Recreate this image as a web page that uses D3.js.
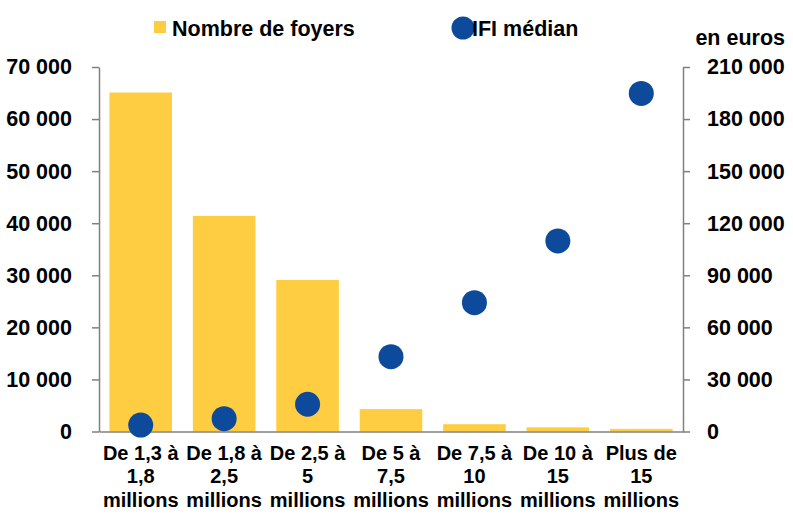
<!DOCTYPE html>
<html>
<head>
<meta charset="utf-8">
<script src="https://cdn.jsdelivr.net/npm/d3@7"></script>
<style>
  body { margin: 0; background: #fff; }
  svg text { font-family: "Liberation Sans", Arial, sans-serif; font-weight: bold; fill: #000; }
</style>
</head>
<body>
<svg id="chart" width="793" height="517"></svg>
<script>
// ---- Data ----
const categories = [
  ["De 1,3 à", "1,8", "millions"],
  ["De 1,8 à", "2,5", "millions"],
  ["De 2,5 à", "5", "millions"],
  ["De 5 à", "7,5", "millions"],
  ["De 7,5 à", "10", "millions"],
  ["De 10 à", "15", "millions"],
  ["Plus de", "15", "millions"]
];
const nombreFoyers = [65100, 41400, 29100, 4300, 1400, 800, 500];
const ifiMedian = [3700, 7400, 15700, 43100, 74200, 109800, 194800];
const leftTicks = [0, 10000, 20000, 30000, 40000, 50000, 60000, 70000];
const rightTicks = [0, 30000, 60000, 90000, 120000, 150000, 180000, 210000];
const seriesNames = ["Nombre de foyers", "IFI médian"];
const unitLabel = "en euros";

// ---- Setup ----
const svg = d3.select("#chart");
const mLeft = 99, mRight = 683, mTop = 67, mBottom = 431.5;
const barColor = "#FFCD41", dotColor = "#0E4A9C", axisColor = "#808080";
const fontSize = 21.5, xFontSize = 20;

const keys = categories.map(c => c.join(" "));
const x = d3.scaleBand().domain(keys).range([mLeft, mRight]).paddingInner(0.25).paddingOuter(0.125);
const yL = d3.scaleLinear().domain([0, 70000]).range([mBottom, mTop]);
const yR = d3.scaleLinear().domain([0, 210000]).range([mBottom, mTop]);

const loc = d3.formatLocale({decimal: ",", thousands: " ", grouping: [3], currency: ["", "€"]});
const fmt = loc.format(",");

// Bars
svg.append("g").selectAll("rect").data(nombreFoyers).join("rect")
  .attr("x", (d, i) => x(keys[i]))
  .attr("width", x.bandwidth())
  .attr("y", d => yL(d))
  .attr("height", d => mBottom - yL(d))
  .attr("fill", barColor);

// Left axis
const gL = svg.append("g").attr("transform", `translate(${mLeft},0)`)
  .call(d3.axisLeft(yL).tickValues(leftTicks).tickFormat(fmt).tickSize(7).tickPadding(20).tickSizeOuter(0));
// Right axis
const gR = svg.append("g").attr("transform", `translate(${mRight},0)`)
  .call(d3.axisRight(yR).tickValues(rightTicks).tickFormat(fmt).tickSize(7).tickPadding(17).tickSizeOuter(0));
[gL, gR].forEach(g => {
  g.attr("font-family", null).attr("font-size", null);
  g.selectAll("path, line").attr("stroke", axisColor).attr("stroke-width", 1.5);
  g.selectAll("text").attr("font-size", fontSize).style("font-weight", "bold");
});

// Bottom axis
const gX = svg.append("g").attr("transform", `translate(0,${mBottom})`)
  .call(d3.axisBottom(x).tickSize(0).tickSizeOuter(0).tickFormat(""));
gX.select("path").attr("stroke", axisColor).attr("stroke-width", 1.5);
gX.attr("font-family", null);
gX.selectAll(".tick").each(function(d, i) {
  const t = d3.select(this).append("text")
    .attr("text-anchor", "middle")
    .attr("font-size", xFontSize)
    .attr("y", 28);
  categories[i].forEach((line, j) => {
    t.append("tspan").attr("x", 0).attr("dy", j === 0 ? 0 : 23.5).text(line);
  });
});

// Dots
svg.append("g").selectAll("circle").data(ifiMedian).join("circle")
  .attr("cx", (d, i) => x(keys[i]) + x.bandwidth() / 2)
  .attr("cy", d => yR(d))
  .attr("r", 12.5)
  .attr("fill", dotColor);

// Legend
const lg = svg.append("g");
lg.append("rect").attr("x", 154).attr("y", 21).attr("width", 12).attr("height", 12).attr("fill", barColor);
lg.append("text").attr("x", 172).attr("y", 35.5).attr("font-size", fontSize).text(seriesNames[0]);
lg.append("circle").attr("cx", 463).attr("cy", 28).attr("r", 11.5).attr("fill", dotColor);
lg.append("text").attr("x", 472).attr("y", 35.5).attr("font-size", fontSize).text(seriesNames[1]);
svg.append("text").attr("x", 785).attr("y", 44.5).attr("text-anchor", "end").attr("font-size", fontSize).text(unitLabel);
</script>
</body>
</html>
